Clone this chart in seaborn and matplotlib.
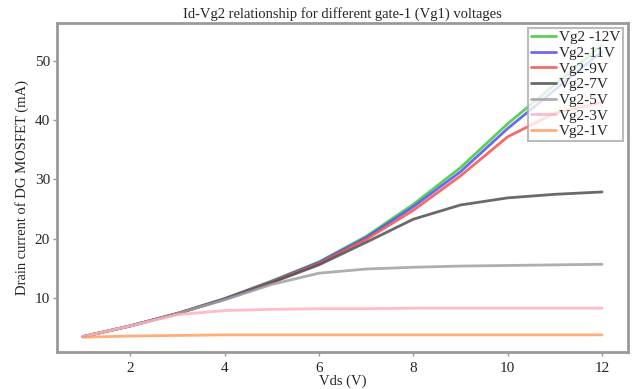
import matplotlib
matplotlib.use("Agg")
import matplotlib.pyplot as plt
import seaborn as sns
import pandas as pd

vds = [1, 2, 3, 4, 5, 6, 7, 8, 9, 10, 11, 12]
labels = ["Vg2 -12V", "Vg2-11V", "Vg2-9V", "Vg2-7V", "Vg2-5V", "Vg2-3V", "Vg2-1V"]
id_m12 = [3.5, 5.3, 7.4, 9.9, 12.9, 16.1, 20.4, 25.8, 32.0, 39.4, 46.0, 52.7]
id_m11 = [3.5, 5.3, 7.4, 9.9, 12.8, 16.0, 20.2, 25.4, 31.3, 38.6, 45.1, 51.6]
id_m9 = [3.5, 5.3, 7.4, 9.8, 12.7, 15.8, 19.9, 24.8, 30.6, 37.2, 41.2, 43.0]
id_m7 = [3.5, 5.3, 7.4, 9.8, 12.6, 15.6, 19.4, 23.3, 25.7, 26.9, 27.5, 27.9]
id_m5 = [3.5, 5.3, 7.4, 9.7, 12.3, 14.2, 14.9, 15.2, 15.4, 15.5, 15.6, 15.7]
id_m3 = [3.5, 5.3, 7.2, 7.9, 8.1, 8.2, 8.2, 8.3, 8.3, 8.3, 8.3, 8.3]
id_m1 = [3.4, 3.6, 3.7, 3.8, 3.8, 3.8, 3.8, 3.8, 3.8, 3.8, 3.8, 3.8]
colors = ["#3cc83c", "#5050f5", "#f55050", "#505050", "#a0a0a0", "#ffb0bc", "#ffa060"]

series = [id_m12, id_m11, id_m9, id_m7, id_m5, id_m3, id_m1]
rows = []
for lab, vals in zip(labels, series):
    for x, y in zip(vds, vals):
        rows.append({"Vds": x, "Id": y, "curve": lab})
df = pd.DataFrame(rows)

sns.set_theme(style="white")
plt.rcParams["font.family"] = ["Liberation Serif", "DejaVu Serif"]

fig = plt.figure(figsize=(6.38, 3.89), dpi=100)
ax = fig.add_axes([0.0893, 0.095, 0.895, 0.846])
sns.lineplot(data=df, x="Vds", y="Id", hue="curve", hue_order=labels,
             palette=dict(zip(labels, colors)), linewidth=2, alpha=0.85, ax=ax)

ax.set_xlim(0.45, 12.55)
ax.set_ylim(0.9, 56.4)
ax.set_xticks([2, 4, 6, 8, 10, 12])
ax.set_yticks([10, 20, 30, 40, 50])
ax.tick_params(axis="both", which="both", labelsize=11, length=3, width=1,
               color="#999999", direction="out", bottom=True, left=True, pad=2)
ax.tick_params(axis="x", pad=4)
for s in ax.spines.values():
    s.set_color("#999999")
    s.set_linewidth(2)

ax.set_title("Id-Vg2 relationship for different gate-1 (Vg1) voltages", fontsize=10.5, pad=4)
ax.set_xlabel("Vds (V)", fontsize=10.5)
ax.xaxis.set_label_coords(0.5, -0.068)
ax.set_ylabel("Drain current of DG MOSFET (mA)", fontsize=10.5, labelpad=4)

leg = ax.legend(loc="upper right", fontsize=11, frameon=True, handlelength=1.6,
                handletextpad=0.2, labelspacing=0.13, borderpad=0.2,
                borderaxespad=0.3, fancybox=False, framealpha=0.8)
leg.get_frame().set_edgecolor("#aaaaaa")
leg.get_frame().set_linewidth(1.5)

fig.savefig("out.png", dpi=100)
